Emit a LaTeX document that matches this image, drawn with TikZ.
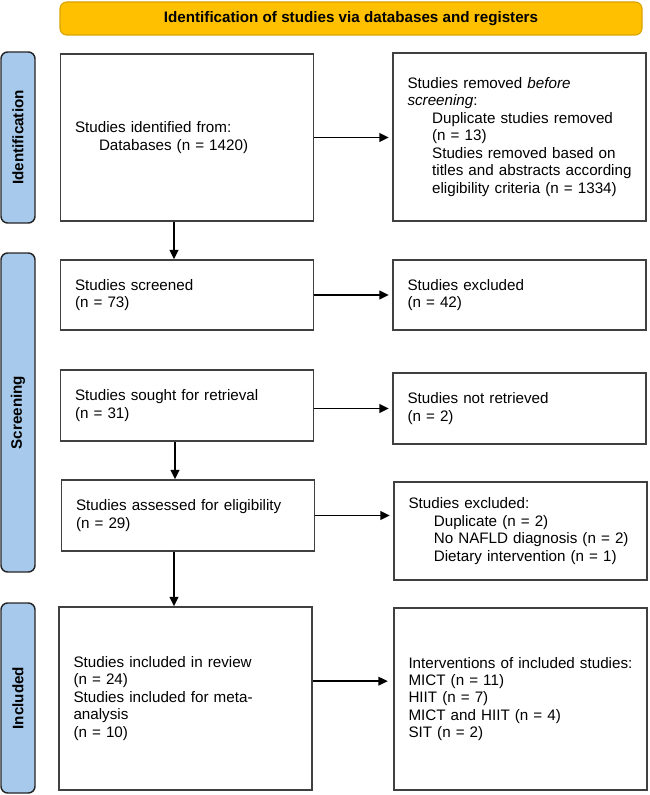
\documentclass[tikz,border=0pt]{standalone}
\usepackage{fontspec}
\setmainfont{Liberation Sans}
\usetikzlibrary{calc,arrows.meta}

\definecolor{bannerfill}{HTML}{FFC000}
\definecolor{bannerline}{HTML}{D9A300}
\definecolor{phasefill}{HTML}{A7C9EB}
\definecolor{boxline}{HTML}{404040}

\tikzset{
  flowbox/.style={draw=boxline, line width=1.1pt, fill=white, align=left,
    text width=168pt, inner xsep=11pt, inner ysep=0pt,
    font=\fontsize{11.4}{13.1}\selectfont},
  phase/.style={draw=black!85, fill=phasefill, line width=1.1pt,
    rounded corners=5pt, rotate=90, inner sep=0pt, minimum height=25.5pt,
    font=\bfseries\fontsize{11.4}{13}\selectfont},
  banner/.style={draw=bannerline, fill=bannerfill, line width=0.8pt,
    rounded corners=5pt, minimum width=436.5pt, minimum height=24.75pt,
    font=\bfseries\fontsize{11.4}{13}\selectfont},
  arr/.style={-{Triangle[length=7pt,width=6.5pt]}, line width=1.2pt},
}

\begin{document}
\begin{tikzpicture}[x=0.75pt,y=-0.75pt]
\useasboundingbox (0,0) rectangle (649,795);

% Header
\node[banner] (head) at (351,18.5) {Identification of studies via databases and registers};

% Phase labels
\node[phase, minimum width=128.25pt] (pident) at (18,137.5) {Identification};
\node[phase, minimum width=239.25pt] (pscreen) at (18,412.5) {Screening};
\node[phase, minimum width=142.5pt] (pincl) at (18,698) {Included};

% Identification
\node[flowbox, minimum height=125.25pt] (ident) at (187,137.5)
  {Studies identified from:\\\hspace*{18pt}Databases (n = 1420)};
\node[flowbox, minimum height=126pt] (removed) at (519.5,137)
  {Studies removed \textit{before}\\\textit{screening}:\\
   \hspace*{18.5pt}Duplicate studies removed\\
   \hspace*{18.5pt}(n = 13)\\
   \hspace*{18.5pt}Studies removed based on\\
   \hspace*{18.5pt}\mbox{titles and abstracts according}\\
   \hspace*{18.5pt}eligibility criteria (n = 1334)};

% Screening
\node[flowbox, minimum height=52.5pt] (screened) at (187,295)
  {Studies screened\\(n = 73)};
\node[flowbox, minimum height=52.5pt] (excl) at (519.5,295)
  {Studies excluded\\(n = 42)};
\node[flowbox, minimum height=53.25pt] (sought) at (187,405.5)
  {Studies sought for retrieval\\(n = 31)};
\node[flowbox, minimum height=53.25pt] (notret) at (519.5,408.5)
  {Studies not retrieved\\(n = 2)};
\node[flowbox, minimum height=53.25pt] (assessed) at (188,515.5)
  {Studies assessed for eligibility\\(n = 29)};
\node[flowbox, minimum height=73.5pt] (exclreas) at (520.5,531)
  {Studies excluded:\\
   \hspace*{19pt}Duplicate (n = 2)\\
   \hspace*{19pt}No NAFLD diagnosis (n = 2)\\
   \hspace*{19pt}Dietary intervention (n = 1)};

% Included
\node[flowbox, minimum height=137.25pt] (incl) at (185.5,698.5)
  {Studies included in review\\(n = 24)\\Studies included for meta-\\analysis\\(n = 10)};
\node[flowbox, minimum height=136.5pt] (interv) at (520.5,699)
  {\mbox{Interventions of included studies:}\\MICT (n = 11)\\HIIT (n = 7)\\MICT and HIIT (n = 4)\\SIT (n = 2)\\[11pt]};

% Arrows
\draw[arr, shorten >=2.5pt] (ident.east) -- (ident.east -| removed.west);
\draw[arr, shorten >=2.5pt] (screened.east) -- (screened.east -| excl.west);
\draw[arr, shorten >=2.5pt] (notret.west -| sought.east) -- (notret.west);
\draw[arr, shorten >=2.5pt] (assessed.east) -- (assessed.east -| exclreas.west);
\draw[arr, shorten >=4pt] ([yshift=13pt]incl.east) -- ([yshift=13pt]incl.east -| interv.west);
\draw[arr] ([xshift=-9.75pt]ident.south) -- ([xshift=-9.75pt]ident.south |- screened.north);
\draw[arr] ([xshift=-9pt]sought.south) -- ([xshift=-9pt]sought.south |- assessed.north);
\draw[arr] ([xshift=-10.5pt]assessed.south) -- ([xshift=-10.5pt]assessed.south |- incl.north);
\end{tikzpicture}
\end{document}
